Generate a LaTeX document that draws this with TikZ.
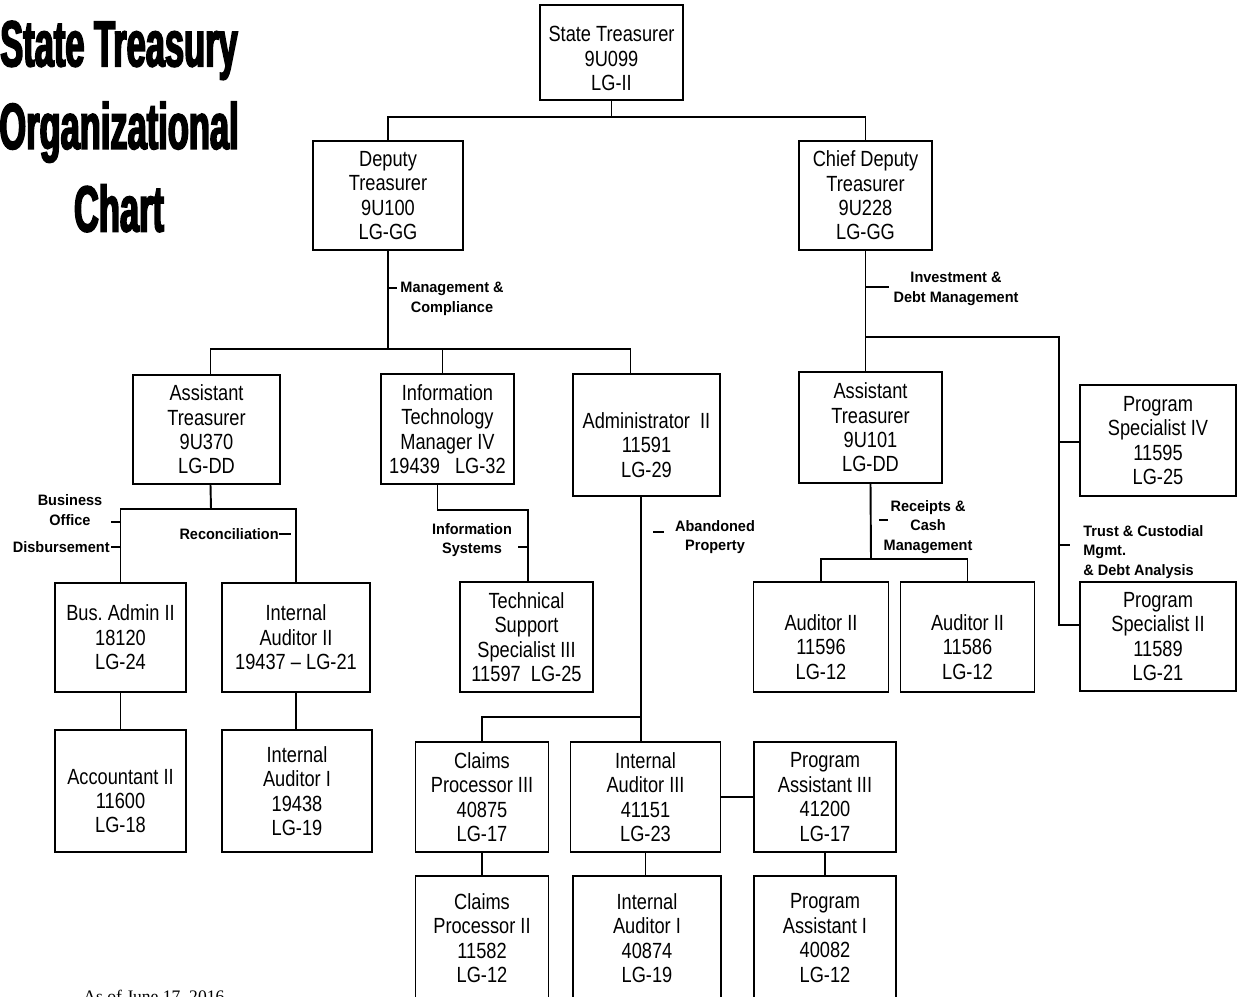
\documentclass[tikz,border=0pt]{standalone}
\usepackage{fontspec}
\setmainfont{Liberation Sans}
\newfontfamily\postfont{Liberation Sans}[FakeStretch=0.83]
\newfontfamily\unitfont{Liberation Sans}[FakeStretch=0.96]
\newfontfamily\titlefont{Liberation Sans}[FakeStretch=0.53,FakeBold=2.5]
\newfontfamily\datefont{Liberation Serif}
\usepackage{tikz}
\usetikzlibrary{calc}
\tikzset{
  post/.style={draw, line width=1.1pt, inner sep=0pt},
  wh/.style 2 args={minimum width=#1*0.02cm, minimum height=#2*0.02cm},
  txt/.style={align=center, inner sep=0pt, font=\postfont\fontsize{12.5}{13.9}\selectfont},
  unit/.style={align=center, inner sep=0pt, font=\unitfont\bfseries\fontsize{8.6}{11}\selectfont},
  heading/.style={align=center, inner sep=0pt, font=\titlefont\bfseries\fontsize{37}{47}\selectfont},
  link/.style={line width=1.1pt},
}

\begin{document}
\begin{tikzpicture}[x=0.02cm, y=-0.02cm]
      \useasboundingbox (0,0) rectangle (1237,997);
      \clip (0,0) rectangle (1237,997);

      \node[heading] at (119,126.5) (head) {State Treasury\\Organizational\\Chart};

      % top
      \node[post, wh={143}{95}, label={[txt, yshift=-0.12cm]center:State Treasurer\\9U099\\LG-II}] at (611.5,52.5) (treas) {};
      \node[post, txt, wh={150}{109}] at (388,195.5) (deputy) {Deputy\\Treasurer\\9U100\\LG-GG};
      \node[post, txt, wh={133}{109}] at (865.5,195.5) (chief) {Chief Deputy\\Treasurer\\9U228\\LG-GG};

      % management & compliance
      \node[post, txt, wh={147}{109}] at (206.5,429.5) (asst1) {Assistant\\Treasurer\\9U370\\LG-DD};
      \node[post, txt, wh={133}{110}] at (447.5,429) (itmgr) {Information\\Technology\\Manager IV\\19439\ \ \ LG-32};
      \node[post, wh={147}{122}, label={[txt, yshift=-0.2cm]center:Administrator\ \ II\\11591\\LG-29}] at (646.5,435) (admin) {};
      \node[post, txt, wh={131}{109}] at (120.5,637.5) (busadm) {Bus.\ Admin II\\18120\\LG-24};
      \node[post, txt, wh={148}{109}] at (296,637.5) (intaud2) {Internal\\Auditor II\\19437 – LG-21};
      \node[post, wh={131}{122}, label={[txt, yshift=-0.2cm]center:Accountant II\\11600\\LG-18}] at (120.5,791) (acct) {};
      \node[post, txt, wh={150}{122}] at (297,791) (intaud1a) {Internal\\Auditor I\\19438\\LG-19};
      \node[post, txt, wh={133}{110}] at (526.5,637) (tech) {Technical\\Support\\Specialist III\\11597\ \ LG-25};
      \node[post, txt, wh={133}{110}] at (482,797) (claims3) {Claims\\Processor III\\40875\\LG-17};
      \node[post, txt, wh={150}{110}] at (645.5,797) (intaud3) {Internal\\Auditor III\\41151\\LG-23};
      \node[post, txt, wh={142}{110}] at (825,797) (prog3) {Program\\Assistant III\\41200\\LG-17};
      \node[post, txt, wh={133}{124}] at (482,938) (claims2) {Claims\\Processor II\\11582\\LG-12};
      \node[post, txt, wh={148}{124}] at (647,938) (intaud1b) {Internal\\Auditor I\\40874\\LG-19};
      \node[post, txt, wh={142}{124}] at (825,938) (prog1) {Program\\Assistant I\\40082\\LG-12};

      % investment & debt management
      \node[post, txt, wh={143}{111}] at (870.5,427.5) (asst2) {Assistant\\Treasurer\\9U101\\LG-DD};
      \node[post, txt, wh={156}{111}] at (1158,440.5) (spec4) {Program\\Specialist IV\\11595\\LG-25};
      \node[post, txt, wh={156}{109}] at (1158,636.5) (spec2) {Program\\Specialist II\\11589\\LG-21};
      \node[post, wh={135}{110}, label={[txt, yshift=-0.2cm]center:Auditor II\\11596\\LG-12}] at (821,637) (aud1) {};
      \node[post, wh={134}{110}, label={[txt, yshift=-0.2cm]center:Auditor II\\11586\\LG-12}] at (967.5,637) (aud2) {};

      % unit labels
      \node[unit] at (452,299) (mgmt) {Management \&\\Compliance};
      \node[unit] at (956,289) (invest) {Investment \&\\Debt Management};
      \node[unit] at (70,510) (bizoff) {Business\\Office};
      \node[unit, anchor=east] at (110,547) (disb) {Disbursement};
      \node[unit, anchor=east] at (279,534) (recon) {Reconciliation};
      \node[unit] at (472,540) (infosys) {Information\\Systems};
      \node[unit] at (715,537) (aband) {Abandoned\\Property};
      \node[unit] at (928,527) (receipts) {Receipts \&\\Cash\\Management};
      \node[unit, align=left, anchor=west] at (1083,552) (trust) {Trust \& Custodial\\Mgmt.\\\& Debt Analysis};

      \node[anchor=base west, inner sep=0pt, font=\datefont\fontsize{10}{12}\selectfont] at (83,1002) (asof) {As of June 17, 2016};

      % junctions
      \coordinate (j0) at (611,117);
      \coordinate (j1) at (388,349);
      \coordinate (j2) at (866,337);
      \coordinate (j3) at (1059,625);
      \coordinate (j4) at (871,559);
      \coordinate (j5) at (211,509);
      \coordinate (j6) at (528,510);
      \coordinate (j7) at (641,717);
      \coordinate (itin) at ($(itmgr.north)+(-5,0)$);
      \coordinate (itout) at ($(itmgr.south)+(-10,0)$);
      \coordinate (t4) at (1059,442);

      \draw[link] (treas.south) -- (treas.south |- j0);
      \draw[link] (deputy.north) |- (j0) -| (chief.north);

      \draw[link] (deputy.south) -- (j1);
      \draw[link] ($(asst1.north)+(4,0)$) |- (j1) -| ($(admin.north)+(-16,0)$);
      \draw[link] (itin) -- (itin |- j1);

      \draw[link] ($(asst1.south)+(4,0)$) -- (j5);
      \draw[link] (busadm.north) |- (j5) -| (intaud2.north);
      \draw[link] (busadm) -- (acct);
      \draw[link] (intaud2.south) -- (intaud2.south |- intaud1a.north);

      \draw[link] (itout) |- (j6) -- (j6 |- tech.north);

      \draw[link] ($(admin.south)+(-5.5,0)$) -- (j7) -- (j7 |- intaud3.north);
      \draw[link] (j7) -| (claims3.north);
      \draw[link] (intaud3) -- (prog3);
      \draw[link] (claims3) -- (claims2);
      \draw[link] (intaud3.south) -- (intaud3.south |- intaud1b.north);
      \draw[link] (prog3) -- (prog1);

      \draw[link] (chief.south) -- (chief.south |- asst2.north);
      \draw[link] (j2) -| (j3) -- (j3 -| spec2.west);
      \draw[link] (t4) -- (t4 -| spec4.west);
      \draw[link] (asst2.south) -- (j4);
      \draw[link] (aud1.north) |- (j4) -| (aud2.north);

      % ticks
      \draw[link] (388,288) -- (397,288);
      \draw[link] (866,287) -- (889,287);
      \draw[link] (121,522) -- (111,522);
      \draw[link] (121,547) -- (111,547);
      \draw[link] (recon.east) -- ++(12,0);
      \draw[link] (528,547) -- (518,547);
      \draw[link] (653,532) -- (664,532);
      \draw[link] (879,520) -- (888,520);
      \draw[link] (1059,545) -- (1070,545);
\end{tikzpicture}
\end{document}
